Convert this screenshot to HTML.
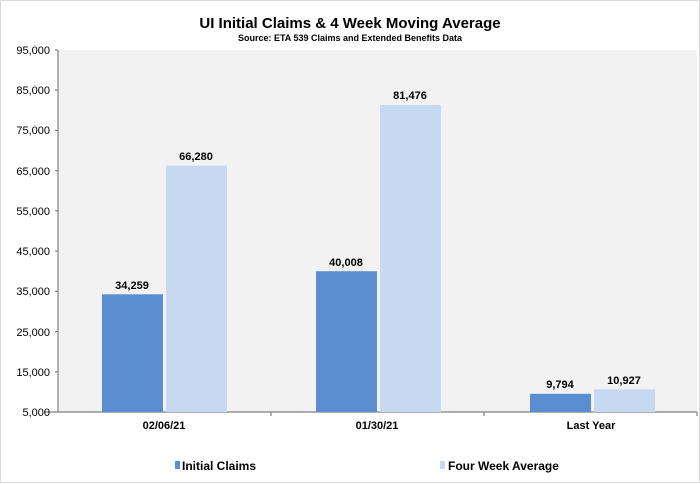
<!DOCTYPE html>
<html><head><style>
html,body{margin:0;padding:0;background:#fff;}
svg{display:block;font-family:"Liberation Sans",Arial,sans-serif;}
</style></head><body>
<svg width="700" height="484" viewBox="0 0 700 484">
<rect x="0.5" y="0.5" width="699" height="482" fill="#fff" stroke="#d9d9d9"/>
<rect x="58" y="50" width="639" height="362" fill="#f2f2f2"/>
<text x="350" y="28" text-anchor="middle" font-size="15" font-weight="bold" fill="#000">UI Initial Claims &amp;  4 Week Moving Average</text>
<text x="350" y="41" text-anchor="middle" font-size="9" font-weight="bold" fill="#000">Source: ETA 539 Claims and Extended Benefits Data</text>
<g stroke="#808080" stroke-width="1.2">
<line x1="58" y1="50" x2="58" y2="412"/>
<line x1="44" y1="412" x2="697" y2="412"/>
<line x1="55" y1="50" x2="58" y2="50"/><line x1="55" y1="90.2" x2="58" y2="90.2"/>
<line x1="55" y1="130.4" x2="58" y2="130.4"/><line x1="55" y1="170.7" x2="58" y2="170.7"/>
<line x1="55" y1="210.9" x2="58" y2="210.9"/><line x1="55" y1="251.1" x2="58" y2="251.1"/>
<line x1="55" y1="291.3" x2="58" y2="291.3"/><line x1="55" y1="331.6" x2="58" y2="331.6"/>
<line x1="55" y1="371.8" x2="58" y2="371.8"/>
<line x1="271" y1="412" x2="271" y2="416"/><line x1="484" y1="412" x2="484" y2="416"/><line x1="697" y1="412" x2="697" y2="416"/>
</g>
<g font-size="11" fill="#000" text-anchor="end">
<text x="50" y="54">95,000</text><text x="50" y="94">85,000</text><text x="50" y="134">75,000</text>
<text x="50" y="175">65,000</text><text x="50" y="215">55,000</text><text x="50" y="255">45,000</text>
<text x="50" y="295">35,000</text><text x="50" y="336">25,000</text><text x="50" y="376">15,000</text>
<text x="50" y="416">5,000</text>
</g>
<g fill="#5b8ed1">
<rect x="102" y="294.3" width="61" height="117.7"/>
<rect x="316" y="271.2" width="61" height="140.8"/>
<rect x="530" y="393.8" width="61" height="18.2"/>
</g>
<g fill="#c6d9f1">
<rect x="166" y="165.6" width="61" height="246.4"/>
<rect x="380" y="105" width="61" height="307"/>
<rect x="594" y="389.3" width="61" height="22.7"/>
</g>
<g font-size="11" font-weight="bold" fill="#000" text-anchor="middle">
<text x="132" y="289">34,259</text><text x="196" y="160">66,280</text>
<text x="346" y="266">40,008</text><text x="410" y="99">81,476</text>
<text x="560" y="388">9,794</text><text x="624" y="384">10,927</text>
<text x="164" y="429">02/06/21</text><text x="377" y="429">01/30/21</text><text x="591" y="429">Last Year</text>
</g>
<rect x="175" y="461" width="5" height="8" fill="#5b8ed1"/>
<text x="182" y="470" font-size="12" font-weight="bold">Initial Claims</text>
<rect x="440" y="461" width="5" height="8" fill="#c6d9f1"/>
<text x="448" y="470" font-size="12" font-weight="bold">Four Week Average</text>
</svg>
</body></html>
